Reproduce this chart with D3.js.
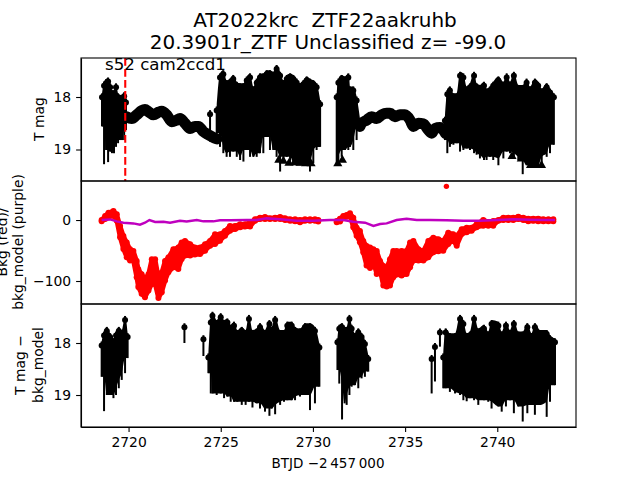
<!DOCTYPE html>
<html>
<head>
<meta charset="utf-8">
<script src="https://cdn.jsdelivr.net/npm/d3@7"></script>
<style>
html, body { margin: 0; padding: 0; background: #fff; overflow: hidden; }
text { font-family: "DejaVu Sans", sans-serif; fill: #000; }
.axis text { font-size: 13.9px; }
.axis path, .axis line { stroke: #000; stroke-width: 1.1px; }
</style>
</head>
<body>
<svg id="chart" width="640" height="480"></svg>
<script>
// panel 1: T mag, noisy stretches read as top/bottom of the error bars
var t1a = [2718.56, 2718.67, 2718.78, 2718.89, 2719.0, 2719.1, 2719.21, 2719.32, 2719.43, 2719.54, 2719.65, 2719.76, 2719.86];
var hi1a = [17.93, 17.71, 17.66, 17.63, 17.74, 17.87, 17.87, 17.74, 17.93, 17.96, 17.96, 17.91, 18.03];
var lo1a = [18.56, 19.28, 19.01, 19.24, 19.04, 19.07, 19.07, 18.95, 18.88, 18.82, 18.82, 18.82, 18.63];

var t1b = [2724.78, 2724.96, 2725.14, 2725.32, 2725.5, 2725.68, 2725.87, 2726.05, 2726.23, 2726.41, 2726.59, 2726.77, 2726.95, 2727.13, 2727.31, 2727.49, 2727.67, 2727.85, 2728.03, 2728.22, 2728.4, 2728.58, 2728.76, 2728.94, 2729.12, 2729.3, 2729.48, 2729.66, 2729.84, 2730.02, 2730.2, 2730.39];
var hi1b = [18.18, 17.55, 17.49, 17.68, 17.65, 17.58, 17.71, 17.74, 17.74, 17.61, 17.55, 17.8, 17.65, 17.55, 17.55, 17.49, 17.49, 17.52, 17.39, 17.52, 17.68, 17.58, 17.55, 17.58, 17.65, 17.74, 17.68, 17.61, 17.65, 17.68, 17.74, 18.06];
var lo1b = [18.69, 18.95, 19.07, 19.14, 19.14, 19.04, 19.14, 19.2, 19.23, 19.01, 19.14, 19.14, 19.14, 19.07, 19.07, 18.76, 19.01, 19.01, 19.14, 19.42, 19.2, 19.14, 19.26, 19.3, 19.3, 19.3, 19.3, 19.3, 19.42, 19.26, 19.01, 18.95];

var t1c = [2731.29, 2731.38, 2731.56, 2731.74, 2731.92, 2732.01, 2732.19, 2732.37, 2732.55];
var hi1c = [17.93, 17.65, 17.58, 17.61, 17.55, 17.8, 17.8, 17.99, 18.41];
var lo1c = [19.3, 19.28, 19.14, 19.01, 19.01, 18.95, 19.01, 18.82, 18.56];

var t1d = [2737.16, 2737.29, 2737.43, 2737.62, 2737.8, 2737.98, 2738.16, 2738.34, 2738.52, 2738.74, 2738.88, 2739.06, 2739.28, 2739.42, 2739.6, 2739.78, 2740.06, 2740.33, 2740.51, 2740.69, 2740.9, 2741.14, 2741.38, 2741.59, 2741.77, 2742.04, 2742.22, 2742.41, 2742.68, 2742.86, 2743.07];
var hi1d = [18.375, 17.87, 17.8, 17.93, 17.93, 17.52, 17.55, 17.8, 17.74, 17.52, 17.74, 17.77, 17.71, 17.84, 17.8, 17.71, 17.61, 17.71, 17.55, 17.71, 17.52, 17.77, 17.77, 17.65, 17.8, 17.65, 17.71, 17.84, 17.74, 17.84, 17.93];
var lo1d = [18.82, 19.07, 18.95, 18.91, 18.88, 19.04, 19.01, 18.98, 19.01, 19.07, 19.1, 19.17, 19.2, 19.2, 19.14, 19.2, 19.3, 19.17, 19.04, 19.07, 19.14, 19.2, 19.47, 19.3, 19.3, 19.3, 19.33, 19.33, 19.14, 19.07, 18.91];

// quiet stretches, thick line of overlapping points
var bandT1 = [2719.9, 2720.17, 2720.44, 2720.71, 2720.89, 2721.08, 2721.35, 2721.62, 2721.8, 2722.07, 2722.34, 2722.61, 2722.79, 2723.06, 2723.34, 2723.6, 2723.79, 2724.06, 2724.33, 2724.6, 2724.8];
var bandM1 = [18.375, 18.41, 18.34, 18.26, 18.24, 18.28, 18.34, 18.29, 18.27, 18.34, 18.47, 18.44, 18.41, 18.5, 18.6, 18.56, 18.56, 18.66, 18.72, 18.77, 18.8];
var bandT2 = [2732.55, 2732.64, 2732.92, 2733.19, 2733.46, 2733.73, 2734.0, 2734.18, 2734.45, 2734.72, 2734.99, 2735.27, 2735.45, 2735.72, 2735.99, 2736.26, 2736.44, 2736.62, 2736.89, 2737.07, 2737.2];
var bandM2 = [18.56, 18.5, 18.44, 18.375, 18.41, 18.34, 18.31, 18.31, 18.375, 18.34, 18.34, 18.44, 18.56, 18.5, 18.51, 18.63, 18.69, 18.6, 18.58, 18.63, 18.7];

// upper limits (triangles)
var limT = [2728.15, 2728.4, 2728.7, 2729.0, 2729.3, 2729.6, 2729.9, 2731.35, 2731.6, 2740.8, 2741.3, 2741.8, 2742.1, 2742.4];
var limM = [19.2, 19.22, 19.26, 19.25, 19.26, 19.27, 19.27, 19.27, 19.2, 19.13, 19.18, 19.3, 19.3, 19.3];

var spikeT = [2724.42];
var spikeHi = [18.25];
var spikeLo = [18.85];

// panel 2: background, upper and lower edge of the red points
var bkgT = [2718.54, 2718.73, 2718.91, 2719.18, 2719.36, 2719.54, 2719.72, 2719.9, 2720.08, 2720.26, 2720.44, 2720.53, 2720.71, 2720.89, 2721.08, 2721.26, 2721.44, 2721.62, 2721.8, 2721.98, 2722.16, 2722.43, 2722.7, 2722.88, 2723.06, 2723.34, 2723.6, 2723.88, 2724.15, 2724.42, 2724.69, 2724.96, 2725.23, 2725.5, 2725.78, 2726.05, 2726.32, 2726.59, 2726.86, 2727.13, 2727.4, 2727.67, 2727.95, 2728.22, 2728.49, 2728.76, 2729.03, 2729.3, 2729.57, 2729.84, 2730.11, 2730.29,
  2731.29, 2731.47, 2731.65, 2731.83, 2732.01, 2732.19, 2732.37, 2732.55, 2732.73, 2732.91, 2733.1, 2733.28, 2733.46, 2733.64, 2733.82, 2734, 2734.18, 2734.36, 2734.54, 2734.81, 2735.08, 2735.27, 2735.45, 2735.72, 2735.99, 2736.26, 2736.53, 2736.8, 2737.07, 2737.34, 2737.61, 2737.8, 2738.07, 2738.34, 2738.61, 2738.88, 2739.24, 2739.51, 2739.78, 2740.06, 2740.33, 2740.6, 2740.87, 2741.14, 2741.41, 2741.68, 2741.95, 2742.22, 2742.5, 2742.77, 2743.04];
var bkgHi = [0.1, 6.6, 12.1, 14.8, 9.4, -9.7, -26.1, -37, -48, -50.7, -67, -80.7, -88.9, -97, -88.9, -64.3, -64.3, -94.4, -86.2, -67, -61.6, -48, -45.2, -37, -34.3, -39.8, -45.2, -45.2, -39.8, -34.3, -23.4, -23.4, -18, -9.7, -9.7, -7, -7, -4.3, 1.2, 3.9, 5, 2.8, 3.9, 5, 2.8, 1.2, 1.2, 0.1, 1.2, 1.2, 1.2, 0.1,
  -1.6, 2.3, 6.6, 8.3, 11, 3.9, -12.5, -18, -34.3, -42.5, -45.2, -48, -50.7, -67, -75.3, -78, -64.3, -50.7, -50.7, -50.7, -50.7, -37, -34.3, -48, -50.7, -34.3, -28.9, -31.6, -34.3, -20.7, -23.4, -26.1, -15.2, -12.5, -12.5, -7, 0.1, -3.2, -1.6, 0.1, 3.9, 3.9, 3.9, 5.5, 3.9, 2.3, 2.3, 2.3, 1.2, 1.2, 1.2];
var bkgLo = [-2.1, 1.7, 4.4, 7.2, -1, -28.3, -47.4, -61, -66.5, -66.5, -93.8, -110, -121, -126.6, -115.7, -104.8, -104.8, -127.7, -118.4, -99.3, -85.6, -77.5, -80.2, -63.8, -58.3, -58.3, -56.7, -55.6, -50.2, -42, -39.2, -33.8, -25.6, -17.4, -14.7, -11.9, -10.8, -10.8, -1, 1.7, 1.7, 1.7, 1.7, 1.7, 0.1, -1, -2.1, -3.7, -1, -1, -1, -2.6,
  -3.7, -2.6, 3.4, 5.5, 7.2, -11.9, -25.6, -36.5, -52.9, -74.7, -78.5, -69.3, -88.4, -82.9, -107.5, -109.1, -107.5, -93.8, -89.5, -91.1, -88.4, -77.5, -66.5, -66.5, -66.5, -61, -52.9, -51.2, -50.2, -39.2, -33.8, -42, -22.9, -20.1, -17.4, -11.9, -9.2, -9.2, -9.2, -1, 0.1, 0.1, 0.1, 1.7, 0.1, -2.1, -1, -2.1, -2.1, -2.1, -2.1];
var outlierT = [2737.24];
var outlierV = [55.2];

var modelT = [2718.54, 2719, 2719.36, 2719.72, 2720.26, 2720.62, 2720.89, 2721.13, 2721.44, 2721.89, 2722.25, 2722.79, 2723.15, 2723.7, 2724.06, 2724.6, 2724.96, 2725.5, 2726.41, 2726.95, 2727.49, 2728.22, 2729.12, 2730.02, 2730.91, 2731.65, 2732.19, 2732.83, 2733.28, 2733.64, 2734, 2734.54, 2735.08, 2735.63, 2736.35, 2737.25, 2738.16, 2739.06, 2739.97, 2740.87, 2741.77, 2742.68, 2743.13];
var modelV = [0, 1, -2.2, -4.4, -5.5, -7.6, -4.4, 0, -3.3, -2.7, -4.4, -1.1, -2.2, 0, -2.2, -2.2, -0.5, -0.5, 0, 0, 2.7, 1.1, -1.1, -1.1, 0, 0, -2.7, -4.4, -9.8, -6.6, -5.5, 0, 2.2, 0, 0, -0.5, -1.1, -1.1, 0, 1.1, 0.5, 0, 0];

// panel 3: T mag minus bkg_model
var t3a = [2718.54, 2718.67, 2718.82, 2719, 2719.18, 2719.32, 2719.47, 2719.63, 2719.81, 2719.95];
var hi3a = [17.97, 17.78, 17.69, 17.81, 17.91, 17.78, 17.69, 17.75, 17.48, 17.81];
var lo3a = [18.65, 19.31, 19, 19, 19.06, 19, 18.87, 18.71, 18.58, 18.29];

var t3b = [2724.33, 2724.46, 2724.55, 2724.78, 2725, 2725.18, 2725.36, 2725.54, 2725.72, 2725.9, 2726.14, 2726.35, 2726.53, 2726.72, 2726.95, 2727.13, 2727.4, 2727.64, 2727.76, 2727.95, 2728.22, 2728.43, 2728.61, 2728.85, 2729.03, 2729.3, 2729.57, 2729.84, 2730.11, 2730.35];
var hi3b = [18.2, 17.53, 17.4, 17.56, 17.43, 17.56, 17.53, 17.65, 17.59, 17.75, 17.69, 17.75, 17.46, 17.75, 17.72, 17.62, 17.75, 17.56, 17.69, 17.48, 17.75, 17.75, 17.59, 17.59, 17.69, 17.72, 17.62, 17.62, 17.69, 18.01];
var lo3b = [18.58, 18.97, 18.97, 19, 18.97, 19.06, 19.03, 19.13, 19.13, 19.13, 19.19, 19.19, 19.13, 19.24, 19.16, 19.26, 19.32, 19.4, 19.26, 19.37, 19.19, 19.13, 19.1, 19.1, 19.1, 19.03, 19, 19.29, 19.16, 18.84];

var t3c = [2731.33, 2731.43, 2731.58, 2731.72, 2731.83, 2731.98, 2732.1, 2732.28, 2732.46, 2732.64, 2732.82, 2733.0];
var hi3c = [17.91, 17.65, 17.62, 17.69, 17.69, 17.46, 17.65, 17.81, 17.72, 17.81, 17.94, 18.23];
var lo3c = [18.52, 18.78, 19.47, 19.16, 19.19, 19, 18.84, 18.81, 18.87, 18.68, 18.65, 18.55];

var t3d = [2737.07, 2737.2, 2737.43, 2737.71, 2737.98, 2738.16, 2738.34, 2738.52, 2738.74, 2738.97, 2739.28, 2739.51, 2739.69, 2740.06, 2740.24, 2740.47, 2740.69, 2740.9, 2741.14, 2741.38, 2741.63, 2741.86, 2742.04, 2742.32, 2742.68, 2742.86, 2743.13];
var hi3d = [18.2, 17.72, 17.81, 17.81, 17.46, 17.56, 17.81, 17.78, 17.46, 17.72, 17.65, 17.78, 17.56, 17.59, 17.78, 17.59, 17.75, 17.56, 17.78, 17.78, 17.62, 17.81, 17.62, 17.75, 17.75, 17.85, 17.91];
var lo3d = [18.87, 18.87, 18.94, 18.97, 19, 19.1, 19.12, 19.06, 19.1, 19.19, 19.1, 19.13, 19.26, 19.22, 19.32, 19.22, 19.1, 19.35, 19.22, 19.51, 19.35, 19.19, 19.38, 19.19, 19.42, 19.13, 18.81];

// isolated points of panel 3
var loneT = [2723.03, 2724.06, 2736.44, 2736.62, 2736.89];
var loneHi = [17.62, 17.85, 18.23, 18.0, 17.72];
var loneLo = [18.0, 18.25, 18.97, 18.74, 18.07];

var xTicks = [2720, 2725, 2730, 2735, 2740];
var magTicks = [18, 19];
var bkgTicks = [0, -100];
var sectorLine = 2719.82;

var svg = d3.select("#chart");
var left = 81, right = 576;

var x = d3.scaleLinear().domain([2717.42, 2744.27]).range([left, right]);
var y1 = d3.scaleLinear().domain([17.257, 19.6]).range([58, 181]);
var y2 = d3.scaleLinear().domain([64, -137.7]).range([181, 304]);
var y3 = d3.scaleLinear().domain([17.25, 19.615]).range([304, 427]);

function noisy(y, t, hi, lo) {
    // solid core: the bottom only goes as far as the neighbouring bars share, tips stay as spikes
    var rows = t.map(function (d, i) {
        var a = Math.max(i - 1, 0), b = Math.min(i + 1, t.length - 1);
        return {
            t: d,
            hi: hi[i],
            lo: Math.min(lo[a], lo[i], lo[b])
        };
    });
    var area = d3.area()
        .x(function (d) { return x(d.t); })
        .y0(function (d) { return y(d.hi); })
        .y1(function (d) { return y(d.lo); })
        .curve(d3.curveMonotoneX);
    svg.append("path").datum(rows).attr("d", area).attr("fill", "#000");
    bars(y, t, hi, lo);
}

function bars(y, t, hi, lo) {
    svg.append("g").selectAll("line")
        .data(t)
        .enter()
        .append("line")
        .attr("x1", function (d) { return x(d); })
        .attr("x2", function (d) { return x(d); })
        .attr("y1", function (d, i) { return y(hi[i]); })
        .attr("y2", function (d, i) { return y(lo[i]); })
        .attr("stroke", "#000")
        .attr("stroke-width", 2);
    // marker sits a little inside the bar ends
    svg.append("g").selectAll("circle")
        .data(t)
        .enter()
        .append("circle")
        .attr("cx", function (d) { return x(d); })
        .attr("cy", function (d, i) { return y(hi[i]) + 4; })
        .attr("r", 3)
        .attr("fill", "#000");
}

function band(y, t, m) {
    var line = d3.line()
        .x(function (d) { return x(d); })
        .y(function (d, i) { return y(m[i]); })
        .curve(d3.curveMonotoneX);
    svg.append("path").datum(t).attr("d", line)
        .attr("fill", "none").attr("stroke", "#000").attr("stroke-width", 11)
        .attr("stroke-linecap", "round").attr("stroke-linejoin", "round");
}

// panel 1
band(y1, bandT1, bandM1);
band(y1, bandT2, bandM2);
noisy(y1, t1a, hi1a, lo1a);
noisy(y1, t1b, hi1b, lo1b);
noisy(y1, t1c, hi1c, lo1c);
noisy(y1, t1d, hi1d, lo1d);
bars(y1, spikeT, spikeHi, spikeLo);

svg.append("g").selectAll("path")
    .data(limT)
    .enter()
    .append("path")
    .attr("d", d3.symbol().type(d3.symbolTriangle).size(36))
    .attr("transform", function (d, i) { return "translate(" + x(d) + "," + y1(limM[i]) + ")"; })
    .attr("fill", "#000");

svg.append("line")
    .attr("x1", x(sectorLine)).attr("x2", x(sectorLine))
    .attr("y1", 58).attr("y2", 181)
    .attr("stroke", "#f00").attr("stroke-width", 2.08).attr("stroke-dasharray", "7.7,3.3");

// panel 2
var bkgRows = bkgT.map(function (d, i) { return {t: d, hi: bkgHi[i], lo: bkgLo[i]}; });
var bkgSplit = bkgT.indexOf(2731.29);
[bkgRows.slice(0, bkgSplit), bkgRows.slice(bkgSplit)].forEach(function (rows) {
    svg.append("path").datum(rows)
        .attr("d", d3.area()
            .x(function (d) { return x(d.t); })
            .y0(function (d) { return y2(d.hi); })
            .y1(function (d) { return y2(d.lo); }))
        .attr("fill", "#f00").attr("stroke", "#f00").attr("stroke-width", 4.6).attr("stroke-linejoin", "round");
});
// round points along both edges
["hi", "lo"].forEach(function (edge) {
    svg.append("g").selectAll("circle")
        .data(bkgRows)
        .enter()
        .append("circle")
        .attr("cx", function (d) { return x(d.t); })
        .attr("cy", function (d) { return y2(d[edge]); })
        .attr("r", 3)
        .attr("fill", "#f00");
});
svg.append("g").selectAll("circle")
    .data(outlierT)
    .enter()
    .append("circle")
    .attr("cx", function (d) { return x(d); })
    .attr("cy", function (d, i) { return y2(outlierV[i]); })
    .attr("r", 2.7)
    .attr("fill", "#f00");
svg.append("path").datum(modelT)
    .attr("d", d3.line()
        .x(function (d) { return x(d); })
        .y(function (d, i) { return y2(modelV[i]); }))
    .attr("fill", "none").attr("stroke", "#bf00bf").attr("stroke-width", 2.5);

// panel 3
noisy(y3, t3a, hi3a, lo3a);
noisy(y3, t3b, hi3b, lo3b);
noisy(y3, t3c, hi3c, lo3c);
noisy(y3, t3d, hi3d, lo3d);
bars(y3, loneT, loneHi, loneLo);

// axes and frames
function plainAxis(axis) {
    return axis.tickSizeInner(4.9).tickSizeOuter(0).tickPadding(4.9);
}
svg.append("g").attr("class", "axis")
    .attr("transform", "translate(" + left + ",0)")
    .call(plainAxis(d3.axisLeft(y1)).tickValues(magTicks).tickFormat(d3.format("d")));
svg.append("g").attr("class", "axis")
    .attr("transform", "translate(" + left + ",0)")
    .call(plainAxis(d3.axisLeft(y2)).tickValues(bkgTicks).tickFormat(function (d) {
        return String(d).replace("-", "\u2212");
    }));
svg.append("g").attr("class", "axis")
    .attr("transform", "translate(" + left + ",0)")
    .call(plainAxis(d3.axisLeft(y3)).tickValues(magTicks).tickFormat(d3.format("d")));
svg.append("g").attr("class", "axis")
    .attr("transform", "translate(0,427)")
    .call(plainAxis(d3.axisBottom(x)).tickValues(xTicks).tickFormat(d3.format("d")));

[[58, 181], [181, 304], [304, 427]].forEach(function (p) {
    svg.append("rect")
        .attr("x", left).attr("y", p[0])
        .attr("width", right - left).attr("height", p[1] - p[0])
        .attr("fill", "none").attr("stroke", "#000").attr("stroke-width", 1.1);
});

// text
svg.append("text").attr("x", 325).attr("y", 27).attr("text-anchor", "middle")
    .style("font-size", "20px").style("white-space", "pre").text("AT2022krc  ZTF22aakruhb");
svg.append("text").attr("x", 328).attr("y", 49).attr("text-anchor", "middle")
    .style("font-size", "20px").text("20.3901r_ZTF Unclassified z= -99.0");
svg.append("text").attr("x", 105).attr("y", 70)
    .style("font-size", "16.67px").text("s52 cam2ccd1");
svg.append("text").attr("x", 328).attr("y", 468).attr("text-anchor", "middle")
    .style("font-size", "13.5px").text("BTJD \u22122\u2009457\u2009000");

function ylabel(px, py, label) {
    svg.append("text")
        .attr("transform", "translate(" + px + "," + py + ") rotate(-90)")
        .attr("text-anchor", "middle")
        .style("font-size", "13.9px")
        .text(label);
}
ylabel(44, 119, "T mag");
ylabel(7, 242, "Bkg (red)/");
ylabel(23, 242, "bkg_model (purple)");
ylabel(25, 365, "T mag \u2212");
ylabel(43, 365, "bkg_model");
</script>
</body>
</html>
